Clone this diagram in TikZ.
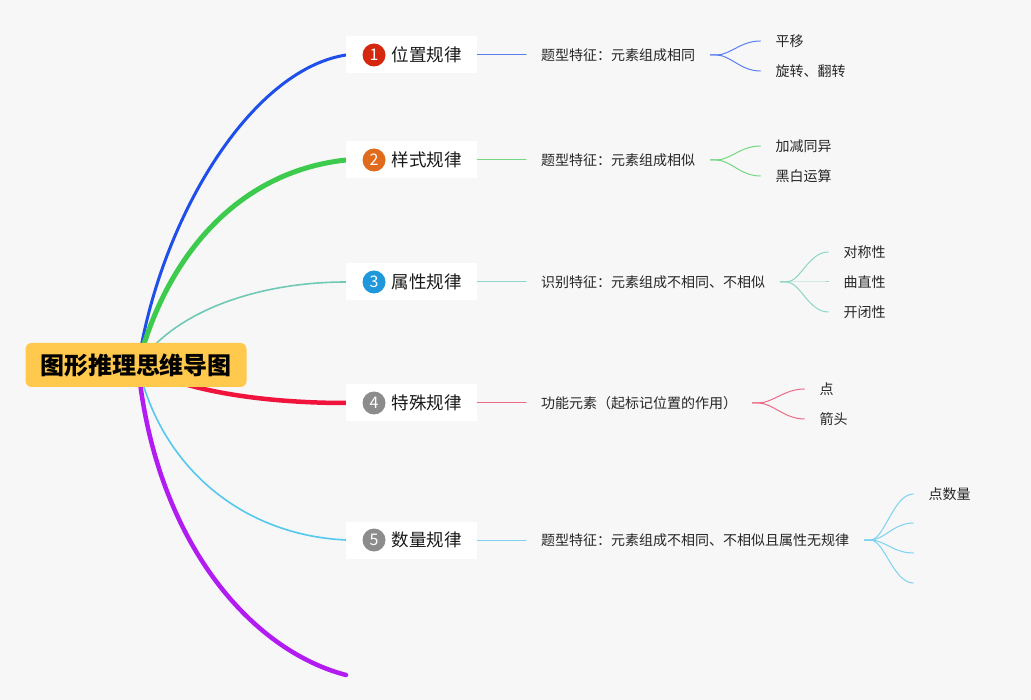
\documentclass[tikz,border=0pt]{standalone}
\usepackage{fontspec}
\setmainfont{Noto Sans CJK SC}
\usetikzlibrary{positioning}
\definecolor{bgc}{HTML}{F7F7F8}
\definecolor{rootc}{HTML}{FFC94D}
\definecolor{cA}{HTML}{1F4FEA}
\definecolor{cB}{HTML}{3CCB4C}
\definecolor{cC}{HTML}{6FC9B5}
\definecolor{cD}{HTML}{F0143C}
\definecolor{cE}{HTML}{55C8EE}
\definecolor{cF}{HTML}{B21CF2}
\definecolor{sA}{HTML}{5A7EEE}
\definecolor{sB}{HTML}{74D782}
\definecolor{sC}{HTML}{8DD6C5}
\definecolor{sD}{HTML}{EC6A84}
\definecolor{sE}{HTML}{7CD2F0}
\definecolor{dA}{HTML}{D5260F}
\definecolor{dB}{HTML}{E06B1C}
\definecolor{dC}{HTML}{1F97DB}
\definecolor{dD}{HTML}{8C8C8C}
\begin{document}
\begin{tikzpicture}[x=1pt, y=-1pt, line cap=round, line join=round,
  root/.style={fill=rootc, rounded corners=6pt, minimum width=221pt, minimum height=44pt, inner sep=0pt, font=\fontsize{24}{24}\selectfont\bfseries},
  branch/.style={fill=white, anchor=west, minimum width=131pt, minimum height=37pt, inner sep=0pt, text=black!90, font=\fontsize{17.5}{18}\selectfont},
  numdot/.style={circle, minimum size=23pt, inner sep=0pt, text=white, font=\fontsize{16}{16}\selectfont},
  feat/.style={anchor=west, inner xsep=15pt, text=black!85, font=\fontsize{14}{14}\selectfont},
  leaf/.style={anchor=west, inner xsep=15pt, text=black!85, font=\fontsize{14}{14}\selectfont},
  twig/.style={line width=1pt}]
% nền và khung
\useasboundingbox[fill=bgc] (0,0) rectangle (1031,700);
% các điểm gốc và điểm cuối của nhánh chính
\coordinate (hub) at (138,365);
\coordinate (e1) at (346,55);
\coordinate (e2) at (346,160);
\coordinate (e3) at (346,282);
\coordinate (e4) at (346,403);
\coordinate (e5) at (346,540);
\coordinate (e6) at (346,675);
% nhánh chính
\draw[line width=3pt, cA] (hub) .. controls (160,220) and (250,70) .. (e1);
\draw[line width=5pt, cB] (hub) .. controls (165,260) and (235,172) .. (e2);
\draw[line width=1.6pt, cC] (hub) .. controls (175,310) and (260,282) .. (e3);
\draw[line width=4.5pt, cD] (hub) .. controls (180,390) and (260,403) .. (e4);
\draw[line width=1.6pt, cE] (hub) .. controls (160,465) and (240,535) .. (e5);
\draw[line width=4.5pt, cF] (hub) .. controls (155,540) and (250,650) .. (e6);
% nút gốc
\node[root] (root) at (136,365) {图形推理思维导图};
% các nút nhánh
\node[branch] (b1) at (e1) {\hspace{30pt}位置规律};
\node[branch] (b2) at (e2) {\hspace{30pt}样式规律};
\node[branch] (b3) at (e3) {\hspace{30pt}属性规律};
\node[branch] (b4) at (e4) {\hspace{30pt}特殊规律};
\node[branch] (b5) at (e5) {\hspace{30pt}数量规律};
\node[numdot, fill=dA] (n1) at ([xshift=28pt]b1.west) {1};
\node[numdot, fill=dB] (n2) at ([xshift=28pt]b2.west) {2};
\node[numdot, fill=dC] (n3) at ([xshift=28pt]b3.west) {3};
\node[numdot, fill=dD] (n4) at ([xshift=28pt]b4.west) {4};
\node[numdot, fill=dD] (n5) at ([xshift=28pt]b5.west) {5};
% đặc trưng
\node[feat] (f1) at (526,55) {题型特征：元素组成相同};
\node[feat] (f2) at (526,160) {题型特征：元素组成相似};
\node[feat] (f3) at (526,282) {识别特征：元素组成不相同、不相似};
\node[feat] (f4) at (526,403) {功能元素（起标记位置的作用）};
\node[feat] (f5) at (526,540) {题型特征：元素组成不相同、不相似且属性无规律};
\draw[twig, sA] (b1.east) -- (f1.west);
\draw[twig, sB] (b2.east) -- (f2.west);
\draw[twig, sC] (b3.east) -- (f3.west);
\draw[twig, sD] (b4.east) -- (f4.west);
\draw[twig, sE] (b5.east) -- (f5.west);
% các lá
\node[leaf] (l11) at ([shift={(50pt,14pt)}]f1.east) {平移};
\node[leaf] (l12) at ([shift={(50pt,-16pt)}]f1.east) {旋转、翻转};
\node[leaf] (l21) at ([shift={(50pt,14pt)}]f2.east) {加减同异};
\node[leaf] (l22) at ([shift={(50pt,-16pt)}]f2.east) {黑白运算};
\node[leaf] (l31) at ([shift={(48pt,30pt)}]f3.east) {对称性};
\node[leaf] (l32) at ([shift={(48pt,0pt)}]f3.east) {曲直性};
\node[leaf] (l33) at ([shift={(48pt,-30pt)}]f3.east) {开闭性};
\node[leaf] (l41) at ([shift={(52pt,14pt)}]f4.east) {点};
\node[leaf] (l42) at ([shift={(52pt,-16pt)}]f4.east) {箭头};
\node[leaf] (l51) at ([shift={(49pt,46pt)}]f5.east) {点数量};
\coordinate (l52) at ([shift={(49pt,17pt)}]f5.east);
\coordinate (l53) at ([shift={(49pt,-13pt)}]f5.east);
\coordinate (l54) at ([shift={(49pt,-43pt)}]f5.east);
\foreach \l in {l11,l12}
\draw[twig, sA] (f1.east) -- ++(6,0) .. controls +(14,0) and +(-20,0) .. (\l.west);
\foreach \l in {l21,l22}
\draw[twig, sB] (f2.east) -- ++(6,0) .. controls +(14,0) and +(-20,0) .. (\l.west);
\foreach \l in {l31,l32,l33}
\draw[twig, sC] (f3.east) -- ++(6,0) .. controls +(14,0) and +(-20,0) .. (\l.west);
\foreach \l in {l41,l42}
\draw[twig, sD] (f4.east) -- ++(6,0) .. controls +(14,0) and +(-20,0) .. (\l.west);
\draw[twig, sE] (f5.east) -- ++(6,0) .. controls +(14,0) and +(-20,0) .. (l51.west);
\foreach \l in {l52,l53,l54}
\draw[twig, sE] (f5.east) -- ++(6,0) .. controls +(14,0) and +(-20,0) .. (\l);
\end{tikzpicture}
\end{document}
